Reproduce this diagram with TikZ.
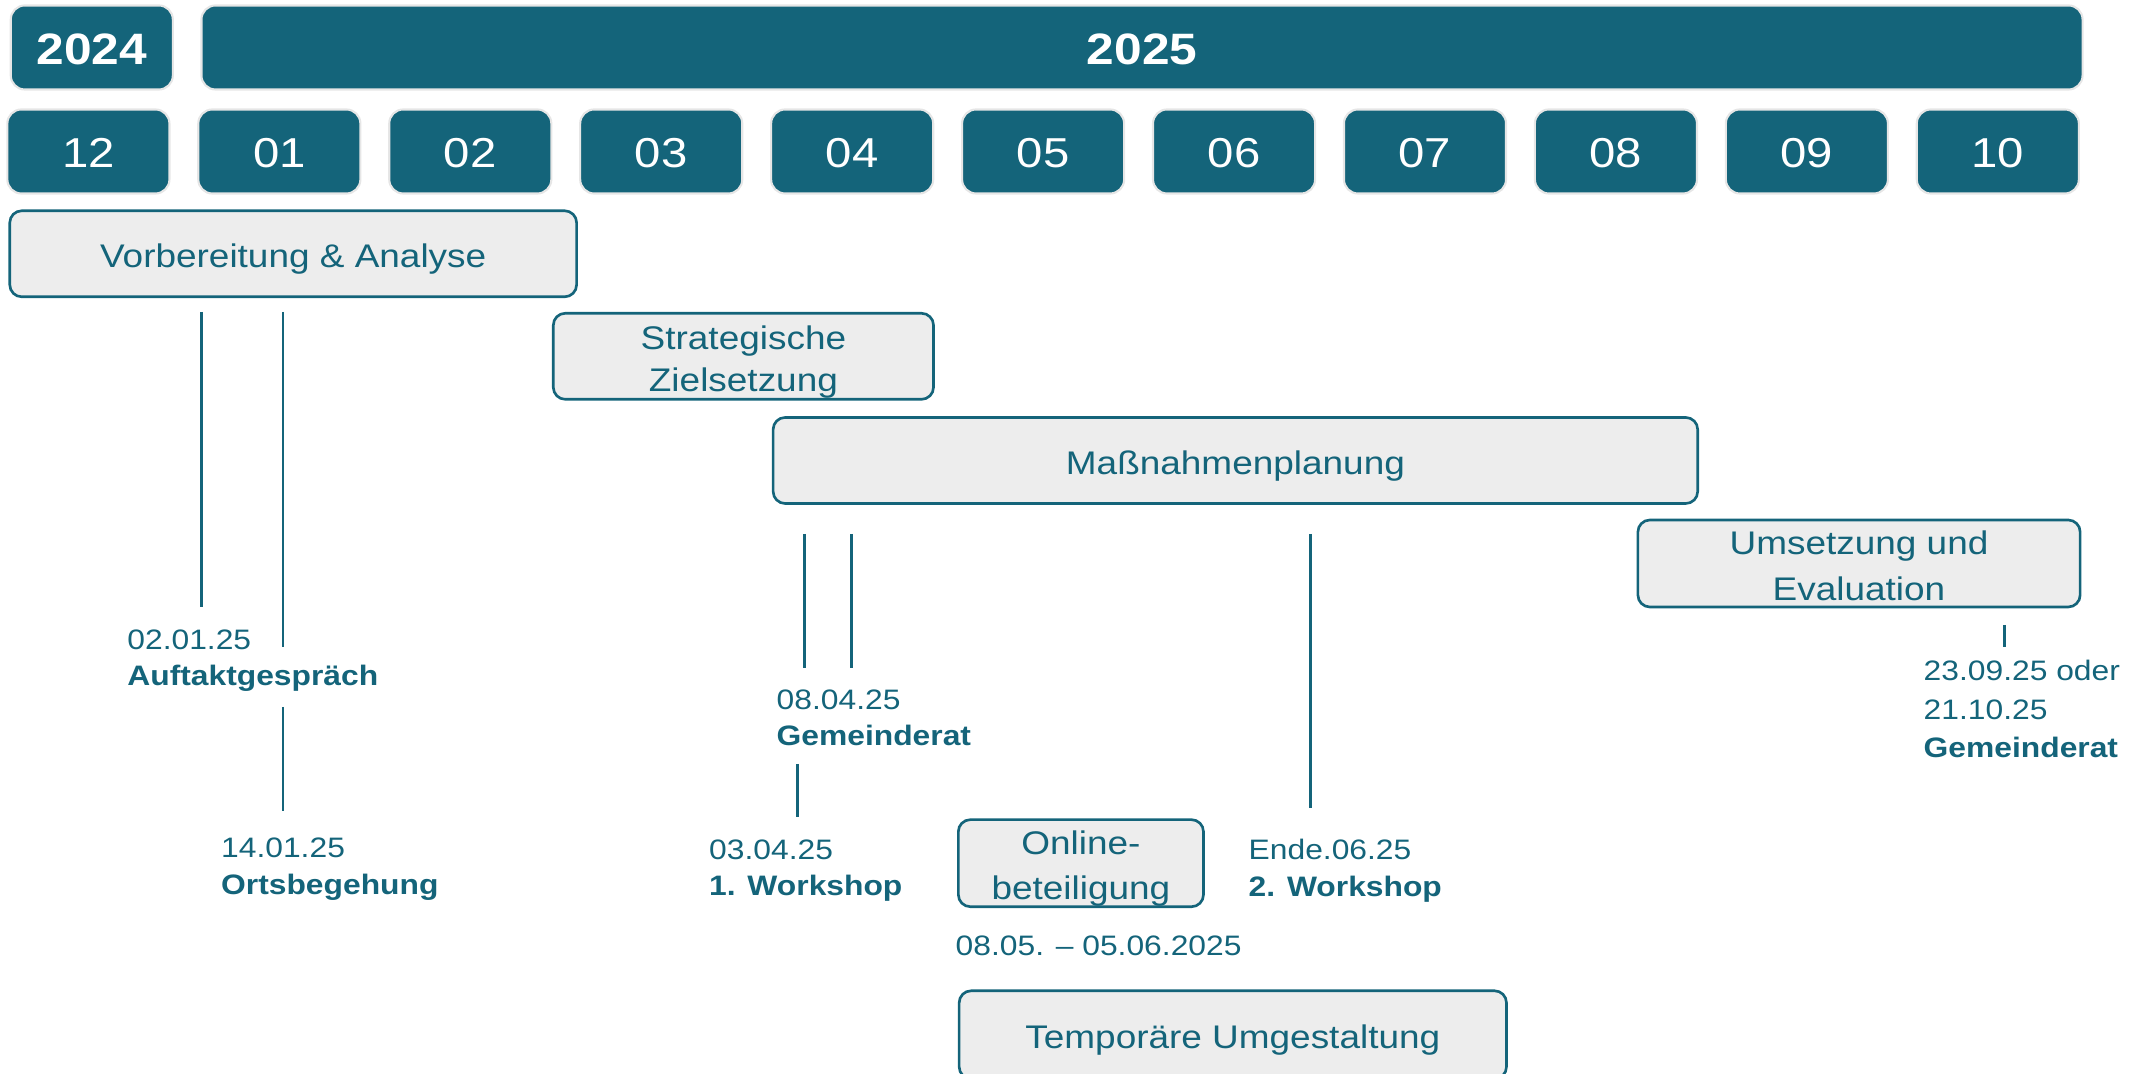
\documentclass[tikz,border=0pt]{standalone}
\usepackage{fontspec}
\setmainfont{Liberation Sans}[FakeStretch=1.13]
\definecolor{tealc}{HTML}{14647A}
\definecolor{panel}{HTML}{EDEDED}
\definecolor{rim}{HTML}{E6E6E6}
% struts that fix where the text sits inside the phase boxes and notes
\newcommand\phtop{\rule{0pt}{0.35cm}}
\newcommand\phbot{\rule[-0.07cm]{0pt}{0.07cm}}
\newcommand\ntop{\rule{0pt}{0.3cm}}
\begin{document}
\begin{tikzpicture}[x=0.01cm,y=-0.01cm,
  head/.style={fill=tealc, draw=rim, line width=0.6pt, rounded corners=0.14cm,
    text=white, inner sep=0pt, minimum height=0.84cm, text depth=0pt},
  yearbox/.style={head, text height=0.34cm, font=\fontsize{12.5}{15}\selectfont\bfseries},
  monthbox/.style={head, text height=0.32cm, minimum width=1.62cm, font=\fontsize{11.9}{14}\selectfont},
  phase/.style={fill=panel, draw=tealc, line width=0.75pt, rounded corners=0.12cm,
    text=tealc, inner sep=0pt, align=center, minimum height=0.86cm,
    font=\fontsize{9.3}{12.8}\selectfont},
  note/.style={anchor=north west, inner sep=0pt, text=tealc, align=left,
    font=\fontsize{8.0}{10.5}\selectfont},
  tick/.style={draw=tealc, line width=0.85pt}
]
\useasboundingbox (0,0) rectangle (2131,1074);
\clip (0,0) rectangle (2131,1074);

% year bar
\node[yearbox, minimum width=1.62cm] (y24) at (91.8,47.5) {2024};
\node[yearbox, minimum width=18.8cm] (y25) at (1142,47.5) {2025};

% month row
\foreach \m [count=\i from 0] in {12,01,02,03,04,05,06,07,08,09,10}
  \node[monthbox] (m\m) at ({88.4+190.94*\i},151.5) {\m};

% project phases
\node[phase, minimum width=5.665cm] (va) at (293.2,253.8) {\phtop Vorbereitung \& Analyse\phbot};
\node[phase, minimum width=3.80cm, font=\fontsize{9.3}{11.9}\selectfont] (sz) at (743.4,356.3) {\phtop Strategische\\Zielsetzung\phbot};
\node[phase, minimum width=9.24cm] (mp) at (1235.4,460.5) {\phtop Maßnahmenplanung\phbot};
\node[phase, minimum width=4.42cm] (ue) at (1859,563.5) {\phtop Umsetzung und\\Evaluation\phbot};
\node[phase, minimum width=2.45cm] (ob) at (1080.9,863.2) {\phtop Online-\\beteiligung\phbot};
\node[phase, minimum width=5.47cm, minimum height=0.88cm] (tu) at (1232.8,1034.8) {\phtop Temporäre Umgestaltung\phbot};

% milestone ticks
\coordinate (t1a) at (201.5,312);  \coordinate (t1b) at (201.5,607);
\coordinate (t2a) at (283,312);    \coordinate (t2b) at (283,647);
\coordinate (t3a) at (283,707);    \coordinate (t3b) at (283,811);
\coordinate (t4a) at (804.3,534);  \coordinate (t4b) at (804.3,668);
\coordinate (t5a) at (851,534);    \coordinate (t5b) at (851,668);
\coordinate (t6a) at (797,764);    \coordinate (t6b) at (797,817);
\coordinate (t7a) at (1310,534);   \coordinate (t7b) at (1310,808.5);
\coordinate (t8a) at (2004.5,625); \coordinate (t8b) at (2004.5,646.7);
\foreach \k in {1,...,8} \draw[tick] (t\k a) -- (t\k b);

% milestone notes
\node[note] (n1) at (126.7,618.3) {\ntop 02.01.25\\\textbf{Auftaktgespräch}};
\node[note] (n2) at (220.5,827) {\ntop 14.01.25\\\textbf{Ortsbegehung}};
\node[note] (n3) at (776,678.3) {\ntop 08.04.25\\\textbf{Gemeinderat}};
\node[note] (n4) at (708.5,828.3) {\ntop 03.04.25\\\textbf{1. Workshop}};
\node[note] (n5) at (1248,829) {\ntop Ende.06.25\\\textbf{2. Workshop}};
\node[note] (n6) at (955,924.3) {\ntop 08.05. -- 05.06.2025};
\node[note, font=\fontsize{8.0}{10.9}\selectfont] (n7) at (1923,650) {\ntop 23.09.25 oder\\21.10.25\\\textbf{Gemeinderat}};
\end{tikzpicture}
\end{document}
